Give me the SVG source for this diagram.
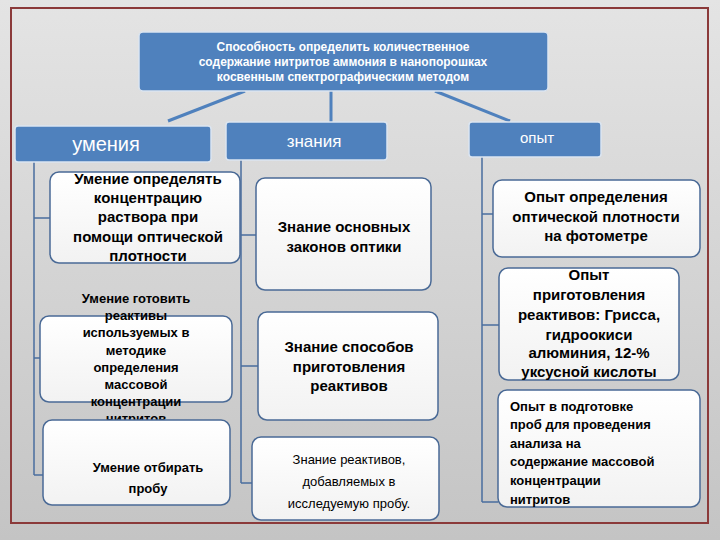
<svg xmlns="http://www.w3.org/2000/svg" width="720" height="540" viewBox="0 0 720 540">
<defs>
<linearGradient id="bg" x1="0" y1="0" x2="0" y2="1"><stop offset="0" stop-color="#e4e4e4"/><stop offset="1" stop-color="#c4c4c4"/></linearGradient>
<linearGradient id="wb" x1="0" y1="0" x2="0" y2="1"><stop offset="0" stop-color="#ffffff"/><stop offset="1" stop-color="#f2f2f2"/></linearGradient>
</defs>
<style>
.hd{fill:#4f81bd;stroke:#dbe5f1;stroke-width:1.5}
.bx{fill:url(#wb);stroke:#4a6a96;stroke-width:1.5}
.ln{stroke:#4a6e9e;stroke-width:1.5;fill:none}
.tl{stroke:#4f81bd;stroke-width:3;fill:none}
text{font-family:"Liberation Sans",Arial,sans-serif;text-anchor:middle;fill:#000}
text.st{text-anchor:start}
.w{fill:#fff}
.b{font-weight:bold}
</style>
<rect width="720" height="540" fill="url(#bg)"/>
<rect x="11" y="8" width="697" height="515" fill="none" stroke="#8b3a3a" stroke-width="2"/>
<g id="connectors">
<path class="tl" d="M245 91 L168 121"/>
<path class="tl" d="M331 91 L331 122"/>
<path class="tl" d="M435 91 L510 121"/>
<path class="ln" d="M34 162 V475 M34 218 H50 M34 358 H40 M34 475 H43"/>
<path class="ln" d="M241 160 V483 M241 235 H256 M241 366 H258 M241 483 H252"/>
<path class="ln" d="M482 157 V502 M482 214 H493 M482 325 H499 M482 502 H498"/>
</g>
<g id="title"><rect class="hd" x="139" y="32" width="409" height="59" rx="4"/>
<g class="b" font-size="12"><text class="w" x="343" y="51">Способность определить количественное</text>
<text class="w" x="343" y="66">содержание нитритов аммония в нанопорошках</text>
<text class="w" x="343" y="81">косвенным спектрографическим методом</text></g></g>
<g id="h-umeniya"><rect class="hd" x="15" y="126" width="196" height="36" rx="3"/><text class="w" font-size="20" x="106" y="151">умения</text></g>
<g id="h-znaniya"><rect class="hd" x="226" y="122" width="161" height="38" rx="3"/><text class="w" font-size="17" x="314" y="147">знания</text></g>
<g id="h-opyt"><rect class="hd" x="469" y="122" width="132" height="35" rx="3"/><text class="w" font-size="15" x="537" y="143">опыт</text></g>
<g id="u1"><rect class="bx" x="50" y="172" width="190" height="91" rx="9"/>
<g class="b" font-size="15"><text x="148" y="184">Умение определять</text><text x="148" y="203">концентрацию</text><text x="148" y="222">раствора при</text><text x="148" y="242">помощи оптической</text><text x="148" y="261">плотности</text></g></g>
<g id="u2"><rect class="bx" x="40" y="316" width="192" height="86" rx="9"/>
<g class="b" font-size="13"><text x="136" y="303">Умение готовить</text><text x="136" y="320">реактивы</text><text x="136" y="337">используемых в</text><text x="136" y="355">методике</text><text x="136" y="372">определения</text><text x="136" y="389">массовой</text><text x="136" y="406">концентрации</text><text x="136" y="423">нитритов</text></g></g>
<g id="u3"><rect class="bx" x="43" y="420" width="187" height="85" rx="9"/>
<g class="b" font-size="13"><text x="148" y="472">Умение отбирать</text><text x="148" y="493">пробу</text></g></g>
<g id="z1"><rect class="bx" x="256" y="178" width="175" height="112" rx="9"/>
<g class="b" font-size="15"><text x="344" y="232">Знание основных</text><text x="344" y="252">законов оптики</text></g></g>
<g id="z2"><rect class="bx" x="258" y="312" width="180" height="108" rx="9"/>
<g class="b" font-size="15"><text x="349" y="352">Знание способов</text><text x="349" y="372">приготовления</text><text x="349" y="391">реактивов</text></g></g>
<g id="z3"><rect class="bx" x="252" y="437" width="187" height="83" rx="9"/>
<g font-size="13"><text x="349" y="464">Знание реактивов,</text><text x="349" y="486">добавляемых в</text><text x="349" y="508">исследуемую пробу.</text></g></g>
<g id="o1"><rect class="bx" x="493" y="180" width="207" height="77" rx="9"/>
<g class="b" font-size="15"><text x="596" y="202">Опыт определения</text><text x="596" y="222">оптической плотности</text><text x="596" y="241">на фотометре</text></g></g>
<g id="o2"><rect class="bx" x="499" y="268" width="180" height="112" rx="9"/>
<g class="b" font-size="15"><text x="589" y="280">Опыт</text><text x="589" y="300">приготовления</text><text x="589" y="320">реактивов: Грисса,</text><text x="589" y="340">гидроокиси</text><text x="589" y="358">алюминия, 12-%</text><text x="589" y="377">уксусной кислоты</text></g></g>
<g id="o3"><rect class="bx" x="498" y="390" width="202" height="117" rx="9"/>
<g class="b" font-size="13"><text class="st" x="510" y="411">Опыт в подготовке</text><text class="st" x="510" y="429">проб для проведения</text><text class="st" x="510" y="448">анализа на</text><text class="st" x="510" y="466">содержание массовой</text><text class="st" x="510" y="485">концентрации</text><text class="st" x="510" y="504">нитритов</text></g></g>
</svg>
